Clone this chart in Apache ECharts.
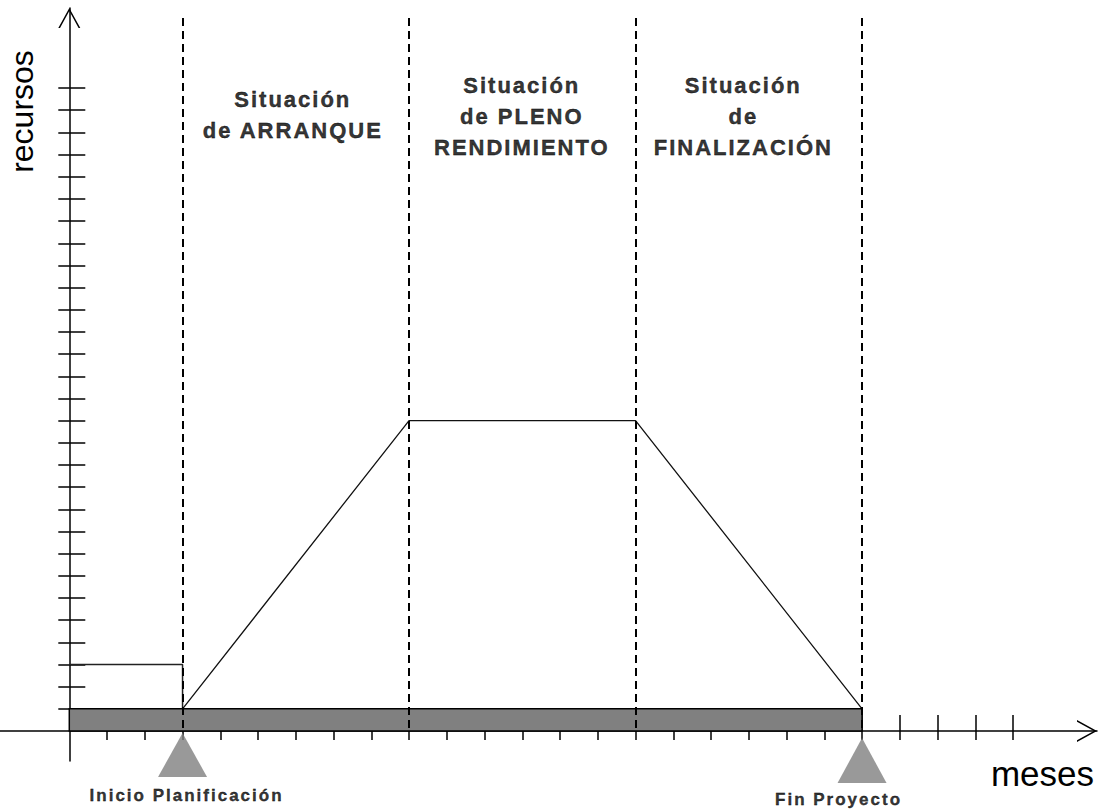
<!DOCTYPE html>
<html>
<head>
<meta charset="utf-8">
<script src="https://cdn.jsdelivr.net/npm/echarts@6.0.0/dist/echarts.min.js"></script>
<style>
html, body { margin: 0; padding: 0; background: #fff; }
#chart { width: 1099px; height: 812px; }
#chart text[style*="22px"] { letter-spacing: 2px; fill: #000; stroke: #000; stroke-width: 0.35px; }
#chart text[style*="17px"] { letter-spacing: 2px; fill: #000; stroke: #000; stroke-width: 0.3px; }
</style>
</head>
<body>
<div id="chart"></div>
<script>
// ---------------- data ----------------
const xTicks = [1, 2, 3, 4, 5, 6, 7, 8, 9, 10, 11, 12, 13, 14, 15, 16, 17, 18, 19, 20, 21, 22, 23, 24, 25];
const yTicks = [1, 2, 3, 4, 5, 6, 7, 8, 9, 10, 11, 12, 13, 14, 15, 16, 17, 18, 19, 20, 21, 22, 23, 24, 25, 26, 27, 28, 29];
const phaseBounds = [3, 9, 15, 21];
const phaseLabels = ['Situación\nde ARRANQUE', 'Situación\nde PLENO\nRENDIMIENTO', 'Situación\nde\nFINALIZACIÓN'];
const baseBand = [0, 21, 1];                 // from month, to month, resource level
const planningBox = [[0, 3], [3, 3], [3, 1]];
const resourceCurve = [[3, 1], [9, 14], [15, 14], [21, 1]];
const milestoneMonths = [3, 21];
const milestoneLabels = ['Inicio Planificación', 'Fin Proyecto'];
const axisTitleX = 'meses';
const axisTitleY = 'recursos';

// ---------------- layout ----------------
const W = 1099, H = 812;
const originPx = [69.3, 731];
const unitPx = [37.75, 22.17];
const gridBox = { left: 0, top: 8, right: 2, bottom: 51 };
const xMin = (gridBox.left - originPx[0]) / unitPx[0];
const xMax = (W - gridBox.right - originPx[0]) / unitPx[0];
const yMax = (originPx[1] - gridBox.top) / unitPx[1];
const yMin = (originPx[1] - (H - gridBox.bottom)) / unitPx[1];
const dividerTop = (originPx[1] - 18) / unitPx[1];
const phaseLabelY = (originPx[1] - 115.5) / unitPx[1];
const phaseLabelOffsets = [[-3, -1], [-0.5, 0.5], [-5.5, 0.5]];
const triSizes = [[49, 44], [49, 45]];
const triOffsets = [[0, 24], [0, 29.5]];
const triLabelOffsets = [[4, 40.8], [-23.5, 38.6]];
const chevron = 'path://M11,0L22,20L20.3,20L11,3.1L1.7,20L0,20Z';
const FONT = 'Liberation Sans, Arial, Helvetica, sans-serif';

const chart = echarts.init(document.getElementById('chart'), null, { renderer: 'svg', width: W, height: H });

const gridCfg = Object.assign({ outerBoundsMode: 'none', containLabel: false }, gridBox);

function xAxisCfg(gi, main) {
  return {
    gridIndex: gi, type: 'value', min: xMin, max: xMax,
    axisLine: main ? {
      show: true, onZero: true, symbol: ['none', chevron], symbolSize: [22, 20], symbolOffset: [0, -10],
      lineStyle: { color: '#000', width: 1.5 }
    } : { show: true, onZero: true, lineStyle: { color: 'rgba(0,0,0,0)', width: 1 } },
    axisTick: { show: true, inside: !main, length: main ? 9 : 16, customValues: xTicks, lineStyle: { color: '#000', width: 1.5 } },
    axisLabel: { show: false }, splitLine: { show: false }
  };
}
function yAxisCfg(gi, main) {
  return {
    gridIndex: gi, type: 'value', min: yMin, max: yMax,
    axisLine: main ? {
      show: true, onZero: true, symbol: ['none', chevron], symbolSize: [22, 20], symbolOffset: [0, -10],
      lineStyle: { color: '#000', width: 1.5 }
    } : { show: true, onZero: true, lineStyle: { color: 'rgba(0,0,0,0)', width: 1 } },
    axisTick: { show: true, inside: !main, length: main ? 11 : 16, customValues: yTicks, lineStyle: { color: '#000', width: 1.5 } },
    axisLabel: { show: false }, splitLine: { show: false }
  };
}

const option = {
  animation: false,
  backgroundColor: '#fff',
  grid: [gridCfg, Object.assign({}, gridCfg)],
  xAxis: [xAxisCfg(0, true), xAxisCfg(1, false)],
  yAxis: [yAxisCfg(0, true), yAxisCfg(1, false)],
  graphic: [
    { type: 'text', x: 21.5, y: 111.5, rotation: Math.PI / 2,
      style: { text: axisTitleY, fontSize: 32, fontFamily: FONT, fill: '#000', textAlign: 'center', textVerticalAlign: 'middle' } },
    { type: 'text', x: 1042.5, y: 773.9,
      style: { text: axisTitleX, fontSize: 35, fontFamily: FONT, fill: '#000', textAlign: 'center', textVerticalAlign: 'middle' } }
  ],
  series: [
    {
      type: 'custom', name: 'base', xAxisIndex: 0, yAxisIndex: 0, z: 3,
      data: [baseBand],
      renderItem: function (params, api) {
        const p0 = api.coord([api.value(0), api.value(2)]);
        const p1 = api.coord([api.value(1), 0]);
        return { type: 'rect', shape: { x: p0[0], y: p0[1], width: p1[0] - p0[0], height: p1[1] - p0[1] },
          style: { fill: '#808080', stroke: '#000', lineWidth: 1.5 } };
      }
    },
    {
      type: 'line', name: 'planificación', xAxisIndex: 0, yAxisIndex: 0, z: 4,
      data: planningBox, showSymbol: false, symbol: 'none', clip: false,
      lineStyle: { color: '#222', width: 1.5 }
    },
    {
      type: 'line', name: 'recursos', xAxisIndex: 0, yAxisIndex: 0, z: 4,
      data: resourceCurve, showSymbol: false, symbol: 'none', clip: false,
      lineStyle: { color: '#111', width: 1.3 },
      markLine: {
        silent: true, symbol: ['none', 'none'], label: { show: false },
        lineStyle: { color: '#000', width: 2, type: [8, 5] },
        data: phaseBounds.map(function (b) { return [{ coord: [b, dividerTop] }, { coord: [b, 0] }]; })
      }
    },
    {
      type: 'scatter', name: 'hitos', xAxisIndex: 0, yAxisIndex: 0, z: 5, clip: false,
      symbol: 'triangle',
      itemStyle: { color: '#808080' },
      data: milestoneMonths.map(function (m, i) {
        return {
          value: [m, 0], name: milestoneLabels[i],
          symbolSize: triSizes[i], symbolOffset: triOffsets[i],
          label: { show: true, position: 'inside', offset: triLabelOffsets[i], formatter: '{b}',
            color: '#000', fontSize: 17, fontWeight: 'bold', fontFamily: FONT, textBorderWidth: 0 }
        };
      })
    },
    {
      type: 'scatter', name: 'fases', xAxisIndex: 0, yAxisIndex: 0, z: 5, clip: false,
      symbolSize: 1, itemStyle: { color: 'rgba(0,0,0,0)' },
      data: phaseLabels.map(function (t, i) {
        return {
          value: [(phaseBounds[i] + phaseBounds[i + 1]) / 2, phaseLabelY], name: t,
          label: { show: true, position: 'inside', offset: phaseLabelOffsets[i], formatter: '{b}',
            color: '#000', fontSize: 22, fontWeight: 'bold', fontFamily: FONT, lineHeight: 31, align: 'center', textBorderWidth: 0 }
        };
      })
    }
  ]
};
chart.setOption(option);
</script>
</body>
</html>
